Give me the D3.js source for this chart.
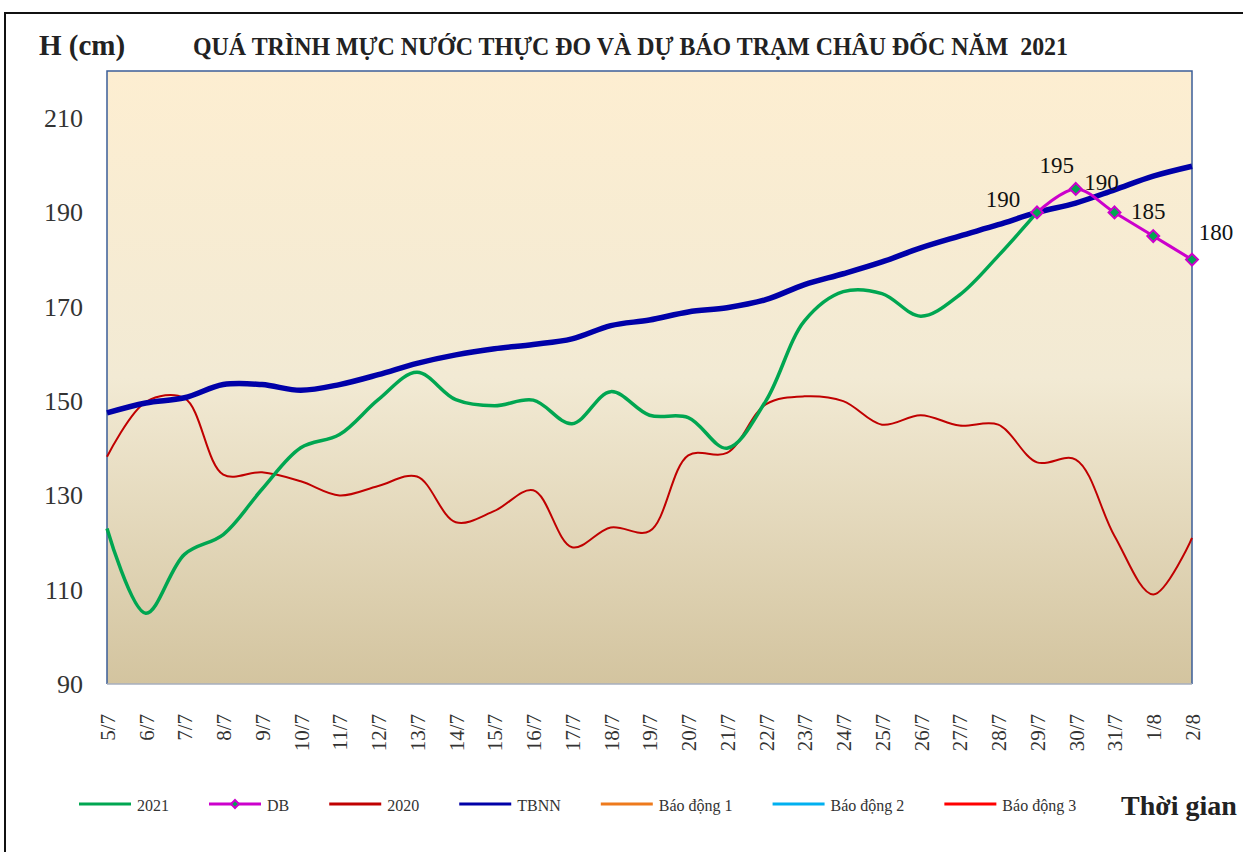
<!DOCTYPE html>
<html>
<head>
<meta charset="utf-8">
<script src="https://cdn.jsdelivr.net/npm/d3@7"></script>
<style>
  html, body { margin: 0; padding: 0; background: #fff; }
  svg { display: block; }
</style>
</head>
<body>
<svg id="chart" width="1243" height="852"></svg>
<script>
// Châu Đốc water level, measured 2021 vs forecast, 2020 and long-term mean.

const dates = ["5/7", "6/7", "7/7", "8/7", "9/7", "10/7", "11/7", "12/7", "13/7", "14/7",
  "15/7", "16/7", "17/7", "18/7", "19/7", "20/7", "21/7", "22/7", "23/7", "24/7",
  "25/7", "26/7", "27/7", "28/7", "29/7", "30/7", "31/7", "1/8", "2/8"];

// measured 2021 (ends 29/7)
const level2021 = [123, 105, 117.5, 121.7, 131.3, 140.1, 142.9, 150.3, 156.1, 150.3,
  149, 150.2, 145.2, 152, 147, 146.5, 140, 150, 167, 173.2,
  172.8, 168, 172.5, 180.8, 190];

// forecast (DB) from 29/7
const forecastDates = ["29/7", "30/7", "31/7", "1/8", "2/8"];
const forecast = [190, 195, 190, 185, 180];

const level2020 = [138.2, 149.8, 150.6, 134.4, 134.9, 133, 130, 132, 134, 124.3,
  126.7, 131.1, 119, 123.2, 122.4, 138.5, 139, 149.3, 151, 150,
  145, 147, 144.8, 145, 137, 137.6, 121.4, 109, 121];

// TBNN = long-term average
const levelTBNN = [147.5, 149.6, 150.7, 153.5, 153.5, 152.3, 153.5, 155.6, 158, 159.8,
  161.1, 162, 163.2, 166, 167.2, 168.9, 169.8, 171.5, 174.7, 177,
  179.5, 182.5, 185, 187.4, 190, 192, 194.8, 197.7, 199.8];

const yTicks = [90, 110, 130, 150, 170, 190, 210];

const legendItems = [
  { name: "2021", color: "#00A651", marker: false },
  { name: "DB", color: "#CC00CC", marker: true },
  { name: "2020", color: "#C00000", marker: false },
  { name: "TBNN", color: "#0000A8", marker: false },
  { name: "Báo động 1", color: "#EE7A1C", marker: false },
  { name: "Báo động 2", color: "#00B0F0", marker: false },
  { name: "Báo động 3", color: "#FF0000", marker: false },
];

const X0 = 107, X1 = 1192, Y0 = 71, Y1 = 684;
const SERIF = "'Liberation Serif','Times New Roman',serif";

const svg = d3.select("#chart");

// outer frame
svg.append("rect").attr("x", 5).attr("y", 13).attr("width", 1260).attr("height", 900)
  .attr("fill", "none").attr("stroke", "#111").attr("stroke-width", 2);

const defs = svg.append("defs");
const grad = defs.append("linearGradient").attr("id", "bg").attr("x1", 0).attr("y1", 0).attr("x2", 0).attr("y2", 1);
grad.append("stop").attr("offset", "0%").attr("stop-color", "#FDEED1");
grad.append("stop").attr("offset", "50%").attr("stop-color", "#F2EAD4");
grad.append("stop").attr("offset", "100%").attr("stop-color", "#D3C49F");

const x = d3.scalePoint().domain(dates).range([X0, X1]);
const y = d3.scaleLinear().domain([90, 220]).range([Y1, Y0]);

svg.append("rect").attr("x", X0).attr("y", Y0).attr("width", X1 - X0).attr("height", Y1 - Y0)
  .attr("fill", "url(#bg)");
svg.append("path")
  .attr("d", `M${X0},${Y1}V${Y0}H${X1}V${Y1}`)
  .attr("fill", "none").attr("stroke", "#3B5E98").attr("stroke-width", 1.5);
svg.append("line").attr("x1", X0).attr("x2", X1).attr("y1", Y1).attr("y2", Y1)
  .attr("stroke", "#A7AFBE").attr("stroke-width", 1.5);

// titles
svg.append("text").attr("x", 39).attr("y", 55)
  .style("font", `bold 29px ${SERIF}`).style("fill", "#222").text("H (cm)");
svg.append("text").attr("x", 193).attr("y", 55)
  .attr("textLength", 875).attr("lengthAdjust", "spacingAndGlyphs")
  .style("font", `bold 25px ${SERIF}`).style("fill", "#222").style("white-space", "pre")
  .text("QUÁ TRÌNH MỰC NƯỚC THỰC ĐO VÀ DỰ BÁO TRẠM CHÂU ĐỐC NĂM  2021");

// y axis
const yAxis = d3.axisLeft(y).tickValues(yTicks).tickSize(0).tickPadding(24);
svg.append("g").attr("transform", `translate(${X0},0)`).call(yAxis)
  .call((s) => s.select(".domain").remove())
  .call((s) => s.selectAll("text").style("font", `26px ${SERIF}`).style("fill", "#333"));

// x axis, rotated labels
const xAxis = d3.axisBottom(x).tickSize(0);
svg.append("g").attr("transform", `translate(0,${Y1})`).call(xAxis)
  .call((s) => s.select(".domain").remove())
  .call((s) => s.selectAll("text")
    .attr("transform", "translate(0,30) rotate(-90)")
    .attr("x", 0).attr("y", 0).attr("dy", "0.35em")
    .attr("text-anchor", "end")
    .style("font", `21px ${SERIF}`).style("fill", "#333"));

const curve = d3.curveCatmullRom.alpha(0.5);
const lineOf = (ds) => d3.line().x((d, i) => x(ds[i])).y((d) => y(d)).curve(curve);

const plot = svg.append("g");
plot.append("path").attr("d", lineOf(dates)(level2020))
  .attr("fill", "none").attr("stroke", "#C00000").attr("stroke-width", 2);
plot.append("path").attr("d", lineOf(dates)(levelTBNN))
  .attr("fill", "none").attr("stroke", "#0000A8").attr("stroke-width", 5.5);
plot.append("path").attr("d", lineOf(dates)(level2021))
  .attr("fill", "none").attr("stroke", "#00A651").attr("stroke-width", 3.5);
plot.append("path").attr("d", lineOf(forecastDates)(forecast))
  .attr("fill", "none").attr("stroke", "#CC00CC").attr("stroke-width", 3);

const diamond = d3.symbol().type(d3.symbolDiamond2).size(90);
plot.selectAll("path.db-pt").data(forecast).enter().append("path")
  .attr("class", "db-pt")
  .attr("transform", (d, i) => `translate(${x(forecastDates[i])},${y(d)})`)
  .attr("d", diamond)
  .attr("fill", "#00A651").attr("stroke", "#CC00CC").attr("stroke-width", 2);

// data labels, nudged like the original
const labelNudge = [[-34, -5], [-19, -16], [-13, -22], [-5, -17], [24, -20]];
plot.selectAll("text.db-lbl").data(forecast).enter().append("text")
  .attr("class", "db-lbl")
  .attr("x", (d, i) => x(forecastDates[i]) + labelNudge[i][0])
  .attr("y", (d, i) => y(d) + labelNudge[i][1])
  .attr("text-anchor", "middle")
  .style("font", `23px ${SERIF}`).style("fill", "#111")
  .text((d) => d);

// legend
const LY = 804;
let lx = 79;
legendItems.forEach((it) => {
  svg.append("line").attr("x1", lx).attr("x2", lx + 52).attr("y1", LY).attr("y2", LY)
    .attr("stroke", it.color).attr("stroke-width", 3);
  if (it.marker) {
    svg.append("path").attr("transform", `translate(${lx + 26},${LY})`)
      .attr("d", d3.symbol().type(d3.symbolDiamond2).size(40))
      .attr("fill", "#00A651").attr("stroke", it.color).attr("stroke-width", 2);
  }
  const t = svg.append("text").attr("x", lx + 58).attr("y", LY + 7)
    .style("font", `16px ${SERIF}`).style("fill", "#333").text(it.name);
  lx += 58 + t.node().getComputedTextLength() + 40;
});
svg.append("text").attr("x", 1121).attr("y", 815)
  .style("font", `bold 28px ${SERIF}`).style("fill", "#222").text("Thời gian");
</script>
</body>
</html>
